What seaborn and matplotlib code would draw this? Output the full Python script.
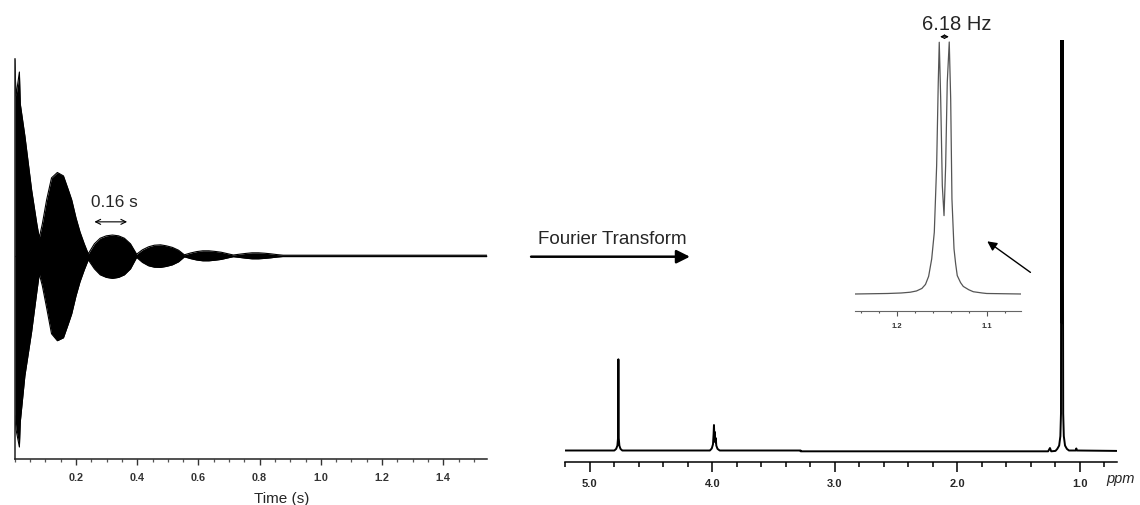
import numpy as np
import matplotlib
matplotlib.use('Agg')
import matplotlib.pyplot as plt
import seaborn as sns
from matplotlib.ticker import MultipleLocator

sns.set_theme(style="white")
plt.rcParams['font.family'] = ['Liberation Sans', 'DejaVu Sans']

# FID envelope (time in s, amplitude top / bottom)
fid_t = [0.000, 0.004, 0.015, 0.018, 0.033, 0.055, 0.072, 0.080, 0.090, 0.104,
         0.120, 0.139, 0.159, 0.175, 0.186, 0.200, 0.213, 0.227, 0.240,
         0.260, 0.279, 0.299, 0.319, 0.339, 0.358, 0.378, 0.398,
         0.417, 0.437, 0.456, 0.476, 0.495, 0.515, 0.535, 0.554,
         0.574, 0.594, 0.614, 0.634, 0.654, 0.674, 0.694, 0.714,
         0.734, 0.755, 0.775, 0.796, 0.816, 0.836, 0.857, 0.877,
         1.542]
fid_upper = [0.98, 0.80, 0.92, 0.76, 0.60, 0.33, 0.16, 0.09, 0.16, 0.28,
             0.39, 0.417, 0.40, 0.33, 0.28, 0.19, 0.12, 0.06, 0.01,
             0.060, 0.088, 0.100, 0.104, 0.100, 0.088, 0.060, 0.008,
             0.030, 0.045, 0.053, 0.055, 0.050, 0.042, 0.028, 0.005,
             0.014, 0.021, 0.025, 0.025, 0.022, 0.018, 0.011, 0.004,
             0.008, 0.012, 0.015, 0.015, 0.013, 0.010, 0.006, 0.003,
             0.003]
fid_lower = [-0.80, -0.87, -0.957, -0.83, -0.60, -0.38, -0.18, -0.09, -0.15, -0.26,
             -0.39, -0.425, -0.41, -0.34, -0.29, -0.20, -0.13, -0.07, -0.02,
             -0.065, -0.095, -0.108, -0.113, -0.108, -0.095, -0.065, -0.008,
             -0.033, -0.050, -0.057, -0.058, -0.053, -0.045, -0.030, -0.005,
             -0.014, -0.021, -0.025, -0.025, -0.022, -0.018, -0.011, -0.004,
             -0.008, -0.012, -0.015, -0.015, -0.013, -0.010, -0.006, -0.003,
             -0.003]
fid_ticks = [0.2, 0.4, 0.6, 0.8, 1.0, 1.2, 1.4]
fid_ticklabels = ['0.2', '0.4', '0.6', '0.8', '1.0', '1.2', '1.4']

# full 1H spectrum (ppm, relative intensity)
spec_ppm = [5.20, 4.800, 4.785, 4.775, 4.770, 4.767, 4.764, 4.759, 4.750, 4.735,
            4.020, 4.005, 3.995, 3.990, 3.987, 3.984, 3.980, 3.976, 3.972, 3.968,
            3.958, 3.940, 3.280, 3.279, 1.260, 1.245, 1.235, 1.200, 1.185, 1.170,
            1.160, 1.155, 1.1527, 1.1474, 1.1416, 1.137, 1.132, 1.122, 1.107, 1.090,
            1.035, 1.030, 1.025, 0.700]
spec_int = [0.0, 0.0, 0.004, 0.012, 0.03, 0.222, 0.03, 0.012, 0.004, 0.0,
            0.0, 0.005, 0.015, 0.04, 0.062, 0.035, 0.045, 0.02, 0.03, 0.012,
            0.004, 0.0, 0.0, -0.002, -0.002, 0.006, -0.002, -0.001, 0.004, 0.012,
            0.035, 0.09, 0.999, 0.31, 1.0, 0.09, 0.035, 0.012, 0.004, 0.0,
            0.0, 0.005, 0.0, -0.001]
spec_ticks = [5.0, 4.0, 3.0, 2.0, 1.0]
spec_ticklabels = ['5.0', '4.0', '3.0', '2.0', '1.0']

# expanded doublet around 1.15 ppm
inset_ppm = [1.2463, 1.2100, 1.1950, 1.1850, 1.1780, 1.1720, 1.1680, 1.1645, 1.1611, 1.1582,
             1.1556, 1.1538, 1.1527, 1.1511, 1.1493, 1.1474, 1.1456, 1.1438, 1.1416, 1.1400,
             1.1386, 1.1363, 1.1345, 1.1327, 1.1290, 1.1260, 1.1200, 1.1149, 1.1050, 1.1000,
             1.0619]
inset_int = [0.0, 0.002, 0.004, 0.007, 0.012, 0.022, 0.038, 0.070, 0.139, 0.245,
             0.509, 0.840, 0.999, 0.774, 0.430, 0.311, 0.509, 0.840, 1.0, 0.774,
             0.377, 0.179, 0.120, 0.073, 0.045, 0.030, 0.017, 0.009, 0.004, 0.002,
             0.0]
inset_ticks = [1.2, 1.1]
inset_ticklabels = ['1.2', '1.1']

fig = plt.figure(figsize=(11.4, 5.06), dpi=100)

# ---- left: FID ----
ax1 = fig.add_axes([0.01298, 0.0909, 0.414, 0.7905])
ax1.fill_between(fid_t, fid_lower, fid_upper, color='black', lw=0)
sns.lineplot(x=fid_t, y=fid_upper, ax=ax1, color='black', lw=0.8, sort=False)
sns.lineplot(x=fid_t, y=fid_lower, ax=ax1, color='black', lw=0.8, sort=False)
ax1.axhline(0, color='black', lw=1.0)
ax1.set_xlim(0, 1.542)
ax1.set_ylim(-1.017, 0.985)
ax1.set_yticks([])
ax1.set_xticks(fid_ticks)
ax1.set_xticklabels(fid_ticklabels, fontsize=7.8, fontweight='bold', color='#333333')
ax1.xaxis.set_minor_locator(MultipleLocator(0.05))
ax1.tick_params(axis='x', which='major', direction='out', length=4, width=1, pad=5,
                bottom=True, color='#333333')
ax1.tick_params(axis='x', which='minor', direction='out', length=2.2, width=0.9,
                bottom=True, color='#555555')
for s in ['top', 'right']:
    ax1.spines[s].set_visible(False)
for s in ['left', 'bottom']:
    ax1.spines[s].set_color('#222222')
    ax1.spines[s].set_linewidth(1.1)
ax1.set_xlabel('')
ax1.set_ylabel('')
fig.text(281.7 / 1140, 3 / 506, 'Time (s)', fontsize=11, ha='center', va='baseline')

ax1.annotate('', xy=(0.376, 0.17), xytext=(0.251, 0.17),
             arrowprops=dict(arrowstyle='<->', lw=0.8, color='black', mutation_scale=9))
ax1.text(0.324, 0.27, '0.16 s', fontsize=12.3, ha='center', va='center')

# ---- Fourier transform arrow ----
fig.text(612 / 1140, 1 - 239.3 / 506, 'Fourier Transform', fontsize=13.5,
         ha='center', va='center')
fig.patches.append(matplotlib.patches.FancyArrowPatch(
    (528.3 / 1140, 1 - 257.7 / 506), (692.7 / 1140, 1 - 257.7 / 506),
    transform=fig.transFigure, arrowstyle='-|>', mutation_scale=20,
    lw=1.8, color='black'))

# ---- right: spectrum ----
ax2 = fig.add_axes([0.4959, 0.08538, 0.4837, 0.8342])
sns.lineplot(x=spec_ppm, y=spec_int, ax=ax2, color='black', lw=1.4, sort=False)
ax2.set_xlim(5.2, 0.7)
ax2.set_ylim(-0.0275, 1.0)
ax2.set_yticks([])
ax2.set_xticks(spec_ticks)
ax2.set_xticklabels(spec_ticklabels, fontsize=8, fontweight='bold')
ax2.xaxis.set_minor_locator(MultipleLocator(0.2))
ax2.tick_params(axis='x', which='major', direction='out', length=7, width=1.1, pad=5,
                bottom=True, color='black')
ax2.tick_params(axis='x', which='minor', direction='out', length=3.6, width=1.1,
                bottom=True, color='black')
for s in ['top', 'right', 'left']:
    ax2.spines[s].set_visible(False)
ax2.spines['bottom'].set_color('black')
ax2.spines['bottom'].set_linewidth(1.1)
ax2.set_xlabel('')
ax2.set_ylabel('')
fig.text(1121 / 1140, 1 - 483 / 506, 'ppm', fontsize=10.5, style='italic',
         ha='center', va='baseline')

# ---- inset: doublet ----
ax3 = fig.add_axes([0.75, 0.3828, 0.1456, 0.5342])
ax3.patch.set_alpha(0)
sns.lineplot(x=inset_ppm, y=inset_int, ax=ax3, color='#555555', lw=0.9, sort=False)
ax3.set_xlim(1.2463, 1.0619)
ax3.set_ylim(-0.0687, 1.004)
ax3.set_yticks([])
ax3.set_xticks(inset_ticks)
ax3.set_xticklabels(inset_ticklabels, fontsize=5.5, fontweight='bold', color='#333333')
ax3.xaxis.set_minor_locator(MultipleLocator(0.02))
ax3.tick_params(axis='x', which='major', direction='out', length=3.9, width=0.8, pad=4,
                bottom=True, color='#555555')
ax3.tick_params(axis='x', which='minor', direction='out', length=1.6, width=0.8,
                bottom=True, color='#555555')
for s in ['top', 'right', 'left']:
    ax3.spines[s].set_visible(False)
ax3.spines['bottom'].set_color('#666666')
ax3.spines['bottom'].set_linewidth(0.8)
ax3.set_xlabel('')
ax3.set_ylabel('')

ax3.annotate('', xy=(1.1389, 1.021), xytext=(1.1549, 1.021), annotation_clip=False,
             arrowprops=dict(arrowstyle='<->', lw=0.8, color='black', mutation_scale=6))
fig.text(956.7 / 1140, 1 - 24.5 / 506, '6.18 Hz', fontsize=14.5, ha='center', va='center')

fig.patches.append(matplotlib.patches.FancyArrowPatch(
    (1032.7 / 1140, 1 - 275 / 506), (985 / 1140, 1 - 240.7 / 506),
    transform=fig.transFigure, arrowstyle='-|>', mutation_scale=14,
    lw=1.0, color='black'))

fig.savefig('out.png', dpi=100)
